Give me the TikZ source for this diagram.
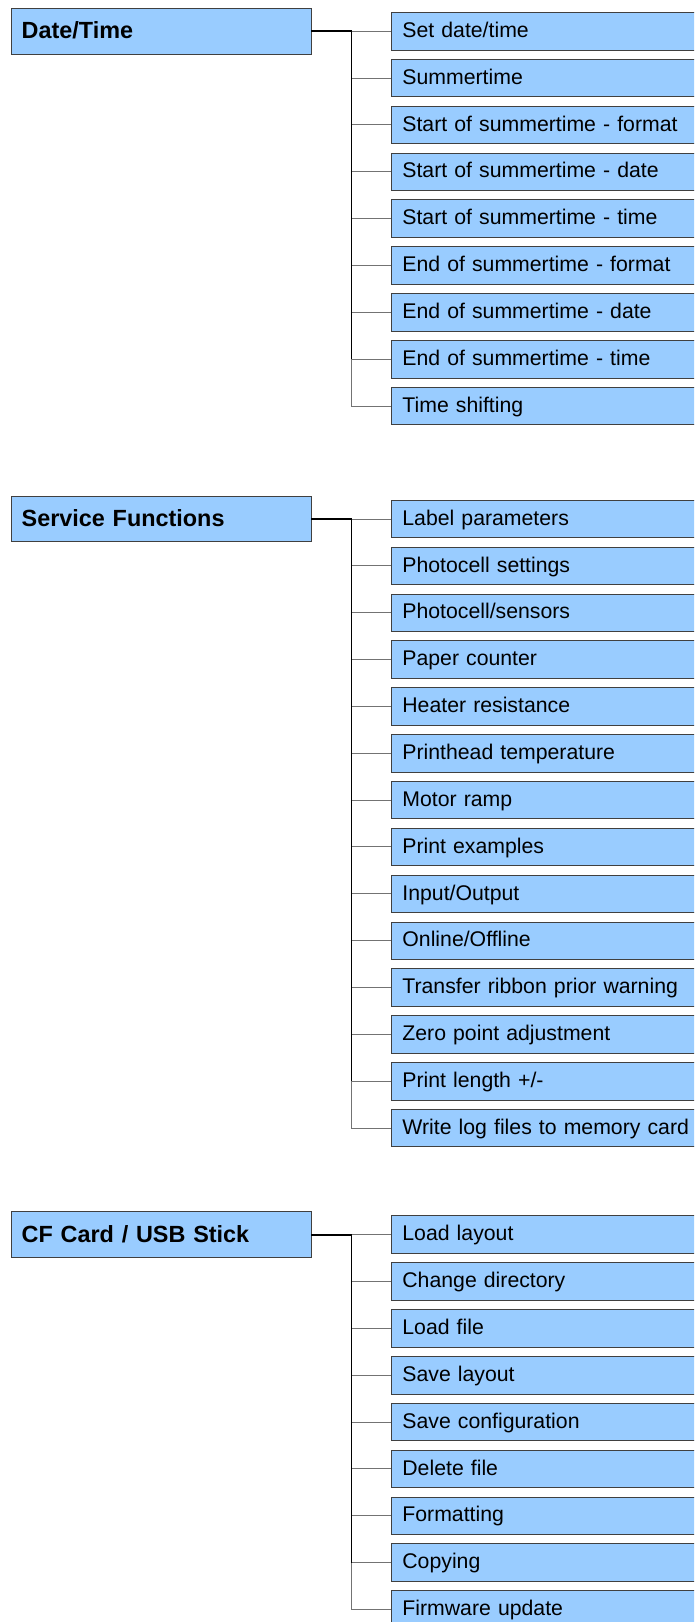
\documentclass[tikz,border=0pt]{standalone}
\usepackage{fontspec}
\setmainfont{Liberation Sans}
\definecolor{boxblue}{RGB}{153,204,255}
\tikzset{
	menu/.style={rectangle,draw=black!75,line width=0.8pt,fill=boxblue,minimum height=45.5pt,text width=278.6pt,inner xsep=10.7pt,inner ysep=0pt,align=left,font=\fontsize{23.4}{26}\selectfont\bfseries,text height=17.5pt,text depth=2.7pt},
	item/.style={rectangle,draw=black!75,line width=0.8pt,fill=boxblue,anchor=west,minimum height=37.5pt,text width=298pt,inner xsep=11pt,inner ysep=0pt,align=left,font=\fontsize{21.25}{24}\selectfont,text height=15.5pt,text depth=3.1pt},
	branch/.style={draw=black!55,line width=1pt},
	trunk/.style={draw=black,line width=1.8pt}
}
\begin{document}
\begin{tikzpicture}[x=1pt,y=-1pt]
		\useasboundingbox (0,0) rectangle (694,1622);
		\clip (0,0) rectangle (694,1622);
		% Date/Time
		\node [menu] (dt) at (161,31.2) {Date/Time};
		\coordinate (dt-j) at ([xshift=40pt]dt.east);
		\foreach \t [count=\i] in {Set date/time,Summertime,Start of summertime - format,Start of summertime - date,Start of summertime - time,End of summertime - format,End of summertime - date,End of summertime - time,Time shifting} {
			\node [item] (dt-\i) at (391,{31.2+(\i-1)*46.85}) {\t};
			\draw [branch] (dt-j) |- (dt-\i.west);
		}
		\draw [trunk] (dt.east) -- (dt-j) -- (dt-j |- dt-8.west);
		% Service Functions
		\node [menu] (sf) at (161,519) {Service Functions};
		\coordinate (sf-j) at ([xshift=40pt]sf.east);
		\foreach \t [count=\i] in {Label parameters,Photocell settings,Photocell/sensors,Paper counter,Heater resistance,Printhead temperature,Motor ramp,Print examples,Input/Output,Online/Offline,Transfer ribbon prior warning,Zero point adjustment,Print length +/-,Write log files to memory card} {
			\node [item] (sf-\i) at (391,{519+(\i-1)*46.85}) {\t};
			\draw [branch] (sf-j) |- (sf-\i.west);
		}
		\draw [trunk] (sf.east) -- (sf-j) -- (sf-j |- sf-13.west);
		% CF Card / USB Stick
		\node [menu] (cf) at (161,1234.6) {CF Card / USB Stick};
		\coordinate (cf-j) at ([xshift=40pt]cf.east);
		\foreach \t [count=\i] in {Load layout,Change directory,Load file,Save layout,Save configuration,Delete file,Formatting,Copying,Firmware update} {
			\node [item] (cf-\i) at (391,{1234.6+(\i-1)*46.85}) {\t};
			\draw [branch] (cf-j) |- (cf-\i.west);
		}
		\draw [trunk] (cf.east) -- (cf-j) -- (cf-j |- cf-8.west);
	\end{tikzpicture}
\end{document}
